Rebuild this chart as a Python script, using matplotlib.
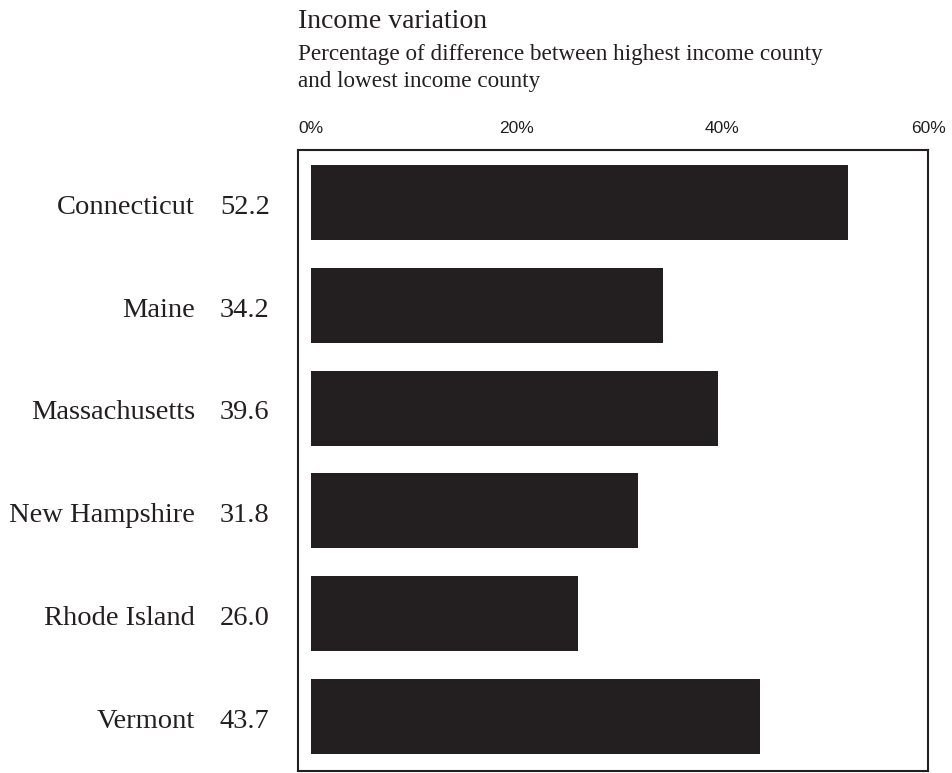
import matplotlib.pyplot as plt
import matplotlib.transforms as mtransforms

states = ['Connecticut', 'Maine', 'Massachusetts', 'New Hampshire', 'Rhode Island', 'Vermont']
values = [52.2, 34.2, 39.6, 31.8, 26.0, 43.7]
ticks = [0, 20, 40, 60]
tick_labels = ['0%', '20%', '40%', '60%']

bar_color = '#231f20'
W, H = 952, 773

fig = plt.figure(figsize=(W / 100, H / 100), dpi=100)
ax = fig.add_axes([298 / W, 2 / H, 630 / W, 621 / H])

ypos = list(range(len(states)))
ax.barh(ypos, values, height=0.73, color=bar_color)

ax.set_xlim(-1.25, 60)
ax.set_ylim(5.53, -0.51)
ax.set_yticks([])
ax.xaxis.set_ticks_position('top')
ax.set_xticks(ticks)
ax.set_xticklabels(tick_labels, fontsize=12.5, family='Liberation Sans', color='#231f20')
ax.tick_params(axis='x', length=0, pad=10)
for s in ax.spines.values():
    s.set_color(bar_color)
    s.set_linewidth(1.5)

# state names and values to the left of the box
trans = mtransforms.blended_transform_factory(fig.transFigure, ax.transData)
for y, name, v in zip(ypos, states, values):
    ax.text(195 / W, y + 0.11, name, transform=trans, ha='right', va='baseline',
            fontsize=20.5, family='Liberation Serif', color='#231f20')
    ax.text(220 / W, y + 0.11, f'{v:.1f}', transform=trans, ha='left', va='baseline',
            fontsize=20.5, family='Liberation Serif', color='#231f20')

fig.text(298 / W, 1 - 28 / H, 'Income variation', ha='left', va='baseline',
         fontsize=20, family='Liberation Serif', color='#231f20')
fig.text(298 / W, 1 - 60 / H, 'Percentage of difference between highest income county',
         ha='left', va='baseline', fontsize=16.7, family='Liberation Serif', color='#231f20')
fig.text(298 / W, 1 - 87 / H, 'and lowest income county', ha='left', va='baseline',
         fontsize=16.7, family='Liberation Serif', color='#231f20')

fig.savefig('out.png', dpi=100)
